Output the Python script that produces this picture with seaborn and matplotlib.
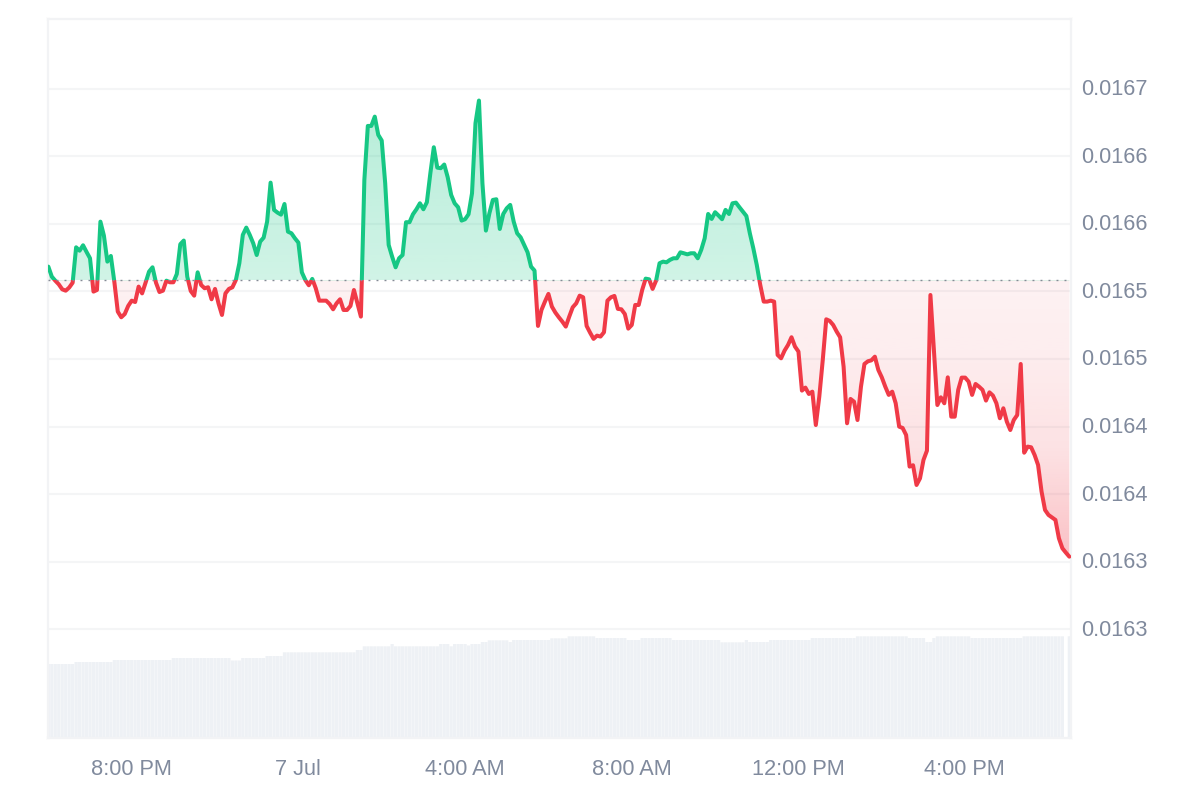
# -*- coding: utf-8 -*-
import numpy as np
import pandas as pd
import seaborn as sns
import matplotlib
matplotlib.use('Agg')
import matplotlib.pyplot as plt
from matplotlib.patches import Rectangle
from matplotlib.transforms import ScaledTranslation

# 5 minute samples, starting at 18:00 on 6 Jul
price = [
    0.0165684, 0.0165610, 0.0165580, 0.0165553, 0.0165516, 0.0165506, 0.0165529, 0.0165565, 0.0165827, 0.0165802,
    0.0165842, 0.0165793, 0.0165746, 0.0165499, 0.0165511, 0.0166017, 0.0165914, 0.0165721, 0.0165763, 0.0165573,
    0.0165351, 0.0165309, 0.0165333, 0.0165393, 0.0165432, 0.0165422, 0.0165536, 0.0165486, 0.0165565, 0.0165647,
    0.0165679, 0.0165565, 0.0165496, 0.0165506, 0.0165580, 0.0165568, 0.0165568, 0.0165630, 0.0165850, 0.0165877,
    0.0165610, 0.0165504, 0.0165469, 0.0165642, 0.0165548, 0.0165524, 0.0165531, 0.0165442, 0.0165519, 0.0165412,
    0.0165326, 0.0165486, 0.0165519, 0.0165531, 0.0165585, 0.0165709, 0.0165919, 0.0165973, 0.0165919, 0.0165857,
    0.0165770, 0.0165869, 0.0165899, 0.0166017, 0.0166306, 0.0166104, 0.0166084, 0.0166069, 0.0166148, 0.0165943,
    0.0165931, 0.0165894, 0.0165862, 0.0165642, 0.0165585, 0.0165546, 0.0165593, 0.0165524, 0.0165432, 0.0165432,
    0.0165432, 0.0165407, 0.0165368, 0.0165412, 0.0165442, 0.0165363, 0.0165363, 0.0165393, 0.0165511, 0.0165412,
    0.0165314, 0.0166326, 0.0166726, 0.0166726, 0.0166795, 0.0166660, 0.0166618, 0.0166301, 0.0165845, 0.0165758,
    0.0165679, 0.0165746, 0.0165770, 0.0166013, 0.0166013, 0.0166072, 0.0166109, 0.0166153, 0.0166109, 0.0166161,
    0.0166375, 0.0166568, 0.0166417, 0.0166413, 0.0166440, 0.0166346, 0.0166215, 0.0166153, 0.0166124, 0.0166025,
    0.0166035, 0.0166072, 0.0166227, 0.0166746, 0.0166914, 0.0166301, 0.0165951, 0.0166079, 0.0166178, 0.0166183,
    0.0165963, 0.0166074, 0.0166116, 0.0166141, 0.0166017, 0.0165931, 0.0165901, 0.0165845, 0.0165790, 0.0165684,
    0.0165655, 0.0165245, 0.0165363, 0.0165425, 0.0165482, 0.0165388, 0.0165344, 0.0165309, 0.0165277, 0.0165240,
    0.0165314, 0.0165383, 0.0165412, 0.0165469, 0.0165457, 0.0165245, 0.0165195, 0.0165149, 0.0165173, 0.0165166,
    0.0165198, 0.0165432, 0.0165457, 0.0165467, 0.0165371, 0.0165368, 0.0165333, 0.0165225, 0.0165252, 0.0165400,
    0.0165400, 0.0165511, 0.0165595, 0.0165590, 0.0165519, 0.0165580, 0.0165709, 0.0165721, 0.0165716, 0.0165734,
    0.0165746, 0.0165746, 0.0165790, 0.0165783, 0.0165775, 0.0165783, 0.0165783, 0.0165746, 0.0165808, 0.0165894,
    0.0166074, 0.0166037, 0.0166087, 0.0166062, 0.0166035, 0.0166104, 0.0166074, 0.0166153, 0.0166158, 0.0166124,
    0.0166092, 0.0166059, 0.0165931, 0.0165820, 0.0165696, 0.0165548, 0.0165425, 0.0165425, 0.0165432, 0.0165425,
    0.0165030, 0.0165005, 0.0165062, 0.0165104, 0.0165161, 0.0165092, 0.0165055, 0.0164766, 0.0164788, 0.0164741,
    0.0164758, 0.0164511, 0.0164721, 0.0164993, 0.0165294, 0.0165282, 0.0165252, 0.0165203, 0.0165161, 0.0164943,
    0.0164524, 0.0164704, 0.0164684, 0.0164548, 0.0164795, 0.0164963, 0.0164983, 0.0164990, 0.0165017, 0.0164919,
    0.0164864, 0.0164795, 0.0164734, 0.0164758, 0.0164672, 0.0164499, 0.0164489, 0.0164437, 0.0164203, 0.0164213,
    0.0164067, 0.0164116, 0.0164252, 0.0164321, 0.0165474, 0.0165067, 0.0164659, 0.0164716, 0.0164672, 0.0164864,
    0.0164573, 0.0164573, 0.0164771, 0.0164862, 0.0164862, 0.0164832, 0.0164734, 0.0164815, 0.0164795, 0.0164771,
    0.0164692, 0.0164753, 0.0164729, 0.0164672, 0.0164561, 0.0164635, 0.0164536, 0.0164474, 0.0164548, 0.0164585,
    0.0164963, 0.0164306, 0.0164351, 0.0164346, 0.0164289, 0.0164215, 0.0164018, 0.0163882, 0.0163845, 0.0163827,
    0.0163808, 0.0163672, 0.0163598, 0.0163566, 0.0163536,
]
open_price = 0.0165585

# volume stays flat for a while then steps, so kept as levels and run lengths
volume_levels = [
    0.74, 0.76, 0.78, 0.80, 0.775, 0.80, 0.82, 0.857, 0.88, 0.917, 0.94, 0.917, 0.94, 0.917, 0.94, 0.925,
    0.94, 0.96, 0.977, 0.96, 0.98, 0.997, 1.017, 1.00, 0.98, 1.00, 0.98, 0.957, 0.98, 0.96, 0.98, 1.00,
    1.017, 1.00, 0.96, 1.00, 1.017, 1.00, 1.017, 0.0, 1.017,
]
volume_runs = [
    8, 11, 17, 17, 3, 7, 5, 21, 2, 8, 1, 13, 3, 1, 4, 1,
    3, 2, 6, 1, 11, 5, 8, 9, 4, 9, 14, 7, 1, 6, 12, 13,
    15, 5, 2, 1, 10, 15, 12, 1, 1,
]
volume = np.repeat(volume_levels, volume_runs)

price_ticks = [0.0167, 0.01665, 0.0166, 0.01655, 0.0165, 0.01645, 0.0164, 0.01635, 0.0163]
price_labels = ['0.0167', '0.0166', '0.0166', '0.0165', '0.0165', '0.0164', '0.0164', '0.0163', '0.0163']
time_ticks = [2, 6, 10, 14, 18, 22]
time_labels = ['8:00 PM', '7 Jul', '4:00 AM', '8:00 AM', '12:00 PM', '4:00 PM']

GREEN = '#16c784'
RED = '#f03a47'
GREY_TEXT = '#808a9d'
GRID = '#f4f5f6'

hours = np.arange(len(price)) / 12
df = pd.DataFrame({'hours': hours, 'price': price, 'volume': volume})

sns.set_theme(style='white')
plt.rcParams['font.family'] = ['Liberation Sans', 'DejaVu Sans']

fig = plt.figure(figsize=(12, 8), dpi=100)
ax = fig.add_axes([47.5 / 1200, 62 / 800, 1023.5 / 1200, 719 / 800])
xlim = (-0.02, 24.54)
ylim = (0.0162193, 0.0167518)

#%% volume bars on their own scale, behind the price
ax_vol = ax.twinx()
ax_vol.set_zorder(0)
ax.set_zorder(1)
ax.patch.set_visible(False)
sns.barplot(data=df, x='hours', y='volume', native_scale=True, ax=ax_vol, color='#eef1f5',
            saturation=1, width=0.92, linewidth=0)
# no pixel snapping, otherwise the gaps between the bars come out uneven
for bar in ax_vol.patches:
    bar.set_snap(False)
ax_vol.set_ylim(0, 7.19)
ax_vol.set_xlim(xlim)
ax_vol.set_yticks([])
ax_vol.set_ylabel('')
ax_vol.set_xlabel('')

#%% gradient fill between the line and the opening price
poly = ax.fill_between(hours, price, open_price, color='none', linewidth=0)
rows = np.linspace(ylim[1], ylim[0], 500)
rgba = np.zeros((500, 1, 4))
above = rows >= open_price
rgba[above, 0, :3] = matplotlib.colors.to_rgb(GREEN)
rgba[~above, 0, :3] = matplotlib.colors.to_rgb(RED)
rgba[above, 0, 3] = np.interp(rows[above], [open_price, 0.0167], [0.2, 0.32])
rgba[~above, 0, 3] = np.interp(rows[~above][::-1], [0.016351, 0.016433, 0.016507, open_price],
                               [0.32, 0.15, 0.09, 0.07])[::-1]
im = ax.imshow(rgba, extent=[xlim[0], xlim[1], ylim[0], ylim[1]], aspect='auto', origin='upper', zorder=1.5)
im.set_clip_path(poly.get_paths()[0], transform=ax.transData)

#%% same line twice, each clipped to its side of the opening price
sns.lineplot(data=df, x='hours', y='price', ax=ax, color=GREEN, linewidth=2.9, errorbar=None, zorder=3)
ax.lines[-1].set_clip_path(Rectangle((xlim[0], open_price), xlim[1] - xlim[0], ylim[1] - open_price, transform=ax.transData))
sns.lineplot(data=df, x='hours', y='price', ax=ax, color=RED, linewidth=2.9, errorbar=None, zorder=3)
ax.lines[-1].set_clip_path(Rectangle((xlim[0], ylim[0]), xlim[1] - xlim[0], open_price - ylim[0], transform=ax.transData))

ax.axhline(open_price, color='#858b96', linewidth=1, linestyle=(0, (1.4, 4.36)), zorder=4)

ax.set_xlim(xlim)
ax.set_ylim(ylim)
ax.set_xlabel('')
ax.set_ylabel('')
ax.set_yticks(price_ticks)
ax.set_yticklabels(price_labels)
ax.set_xticks(time_ticks)
ax.set_xticklabels(time_labels)
ax.yaxis.tick_right()
ax.grid(axis='y', color=GRID, linewidth=1.5)
ax.set_axisbelow(True)
ax.tick_params(axis='y', length=0, pad=7.5, labelsize=15.7, labelcolor=GREY_TEXT)
ax.tick_params(axis='x', length=0, pad=15, labelsize=15.7, labelcolor=GREY_TEXT)

# labels sit a little above their grid lines
for label in ax.get_yticklabels():
    label.set_transform(label.get_transform() + ScaledTranslation(0, 1.5 / 100, fig.dpi_scale_trans))
for label in ax.get_xticklabels():
    label.set_transform(label.get_transform() + ScaledTranslation(-0.3 / 100, 0, fig.dpi_scale_trans))

for a in (ax, ax_vol):
    for spine in a.spines.values():
        spine.set_color('#f2f3f5')
        spine.set_linewidth(1.5)

fig.savefig('out.png', dpi=100)
